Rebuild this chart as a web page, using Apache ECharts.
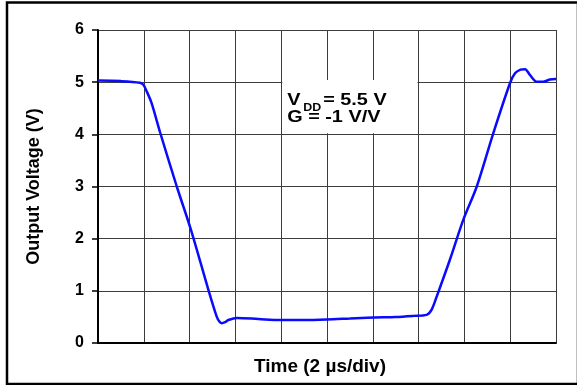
<!DOCTYPE html>
<html>
<head>
<meta charset="utf-8">
<script src="https://cdn.jsdelivr.net/npm/echarts@6/dist/echarts.min.js"></script>
<style>
  html, body { margin: 0; padding: 0; background: #fff; }
  #chart { width: 577px; height: 385px; }
</style>
</head>
<body>
<div id="chart"></div>
<script>
// Inverting amplifier large-signal pulse response, 2 µs per division
const timeUs = [0, 1.0, 1.83, 1.98, 2.1, 2.34, 2.71, 3.44, 4.06, 4.82, 5.18, 5.3, 5.4, 5.55, 5.69, 6.06, 7.0, 7.95, 9.0, 9.99, 11.0, 12.02, 13.0, 13.77, 14.35, 14.57, 14.79, 15.37, 15.95, 16.54, 17.26, 17.99, 18.21, 18.45, 18.65, 18.86, 19.16, 19.45, 19.74, 20.0];
const outputV = [5.03, 5.02, 4.99, 4.95, 4.85, 4.60, 4.04, 3.0, 2.17, 1.02, 0.51, 0.41, 0.38, 0.40, 0.44, 0.48, 0.46, 0.44, 0.44, 0.45, 0.47, 0.49, 0.50, 0.52, 0.54, 0.64, 0.89, 1.60, 2.36, 3.0, 4.02, 4.98, 5.17, 5.24, 5.25, 5.14, 5.01, 5.01, 5.05, 5.06];
const yTicks = [0, 1, 2, 3, 4, 5, 6];
const xDivisions = [0, 2, 4, 6, 8, 10, 12, 14, 16, 18, 20];

const FONT = '"Liberation Sans", Arial, sans-serif';
const chart = echarts.init(document.getElementById('chart'), null, { renderer: 'canvas' });

const frame = {
  type: 'rect',
  shape: { x: 7, y: 2.5, width: 571, height: 381.5 },
  style: { fill: 'none', stroke: '#000', lineWidth: 2.5 },
  silent: true
};

chart.setOption({
  animation: false,
  backgroundColor: '#ffffff',
  grid: { left: 98, top: 30, right: 21, bottom: 42, containLabel: false },
  xAxis: {
    type: 'value',
    min: xDivisions[0],
    max: xDivisions[xDivisions.length - 1],
    interval: xDivisions[1] - xDivisions[0],
    name: 'Time (2 µs/div)',
    nameLocation: 'middle',
    nameGap: 14,
    nameTextStyle: { fontFamily: FONT, fontWeight: 'bold', fontSize: 19, color: '#000', verticalAlign: 'top', padding: [0, 14, 0, 0] },
    axisLine: { show: true, onZero: false, lineStyle: { color: '#000', width: 2 } },
    axisTick: { show: false },
    axisLabel: { show: false },
    splitLine: { show: true, lineStyle: { color: '#3c3c3c', width: 1 } }
  },
  yAxis: {
    type: 'value',
    min: yTicks[0],
    max: yTicks[yTicks.length - 1],
    interval: 1,
    name: 'Output Voltage (V)',
    nameLocation: 'middle',
    nameGap: 55,
    nameTextStyle: { fontFamily: FONT, fontWeight: 'bold', fontSize: 18, color: '#000' },
    axisLine: { show: true, lineStyle: { color: '#000', width: 2 } },
    axisTick: { show: true, inside: false, length: 6, lineStyle: { color: '#000', width: 1.5 } },
    axisLabel: { fontFamily: FONT, fontWeight: 'bold', fontSize: 16, color: '#000', margin: 14 },
    splitLine: { show: true, lineStyle: { color: '#3c3c3c', width: 1 } }
  },
  series: [{
    type: 'line',
    data: timeUs.map((t, i) => [t, outputV[i]]),
    showSymbol: false,
    smooth: 0.3,
    lineStyle: { color: '#0a0aff', width: 2.5 },
    markArea: {
      silent: true,
      itemStyle: { color: '#ffffff', opacity: 1 },
      data: [[{ xAxis: 8.05, yAxis: 4.02 }, { xAxis: 13.95, yAxis: 5.04 }]]
    },
    z: 3
  }],
  graphic: [frame]
});

// Supply and gain note, anchored to the grid cell it sits in
const anchor = chart.convertToPixel({ gridIndex: 0 }, [8, 5]);
const ax = anchor[0] + 6, ay = anchor[1];
const noteFont = 'bold 16px ' + FONT;
const stretch = 1.24;
chart.setOption({
  graphic: [
    frame,
    { type: 'text', x: ax, y: ay + 10, scaleX: stretch, z: 10, style: { text: 'V', font: noteFont, fill: '#000', verticalAlign: 'top' } },
    { type: 'text', x: ax + 16, y: ay + 21, scaleX: stretch, z: 10, style: { text: 'DD', font: 'bold 10px ' + FONT, fill: '#000', verticalAlign: 'top' } },
    { type: 'text', x: ax + 36, y: ay + 10, scaleX: stretch, z: 10, style: { text: '= 5.5 V', font: noteFont, fill: '#000', verticalAlign: 'top' } },
    { type: 'text', x: ax, y: ay + 27, scaleX: stretch, z: 10, style: { text: 'G = -1 V/V', font: noteFont, fill: '#000', verticalAlign: 'top' } }
  ]
}, { replaceMerge: ['graphic'] });
</script>
</body>
</html>
